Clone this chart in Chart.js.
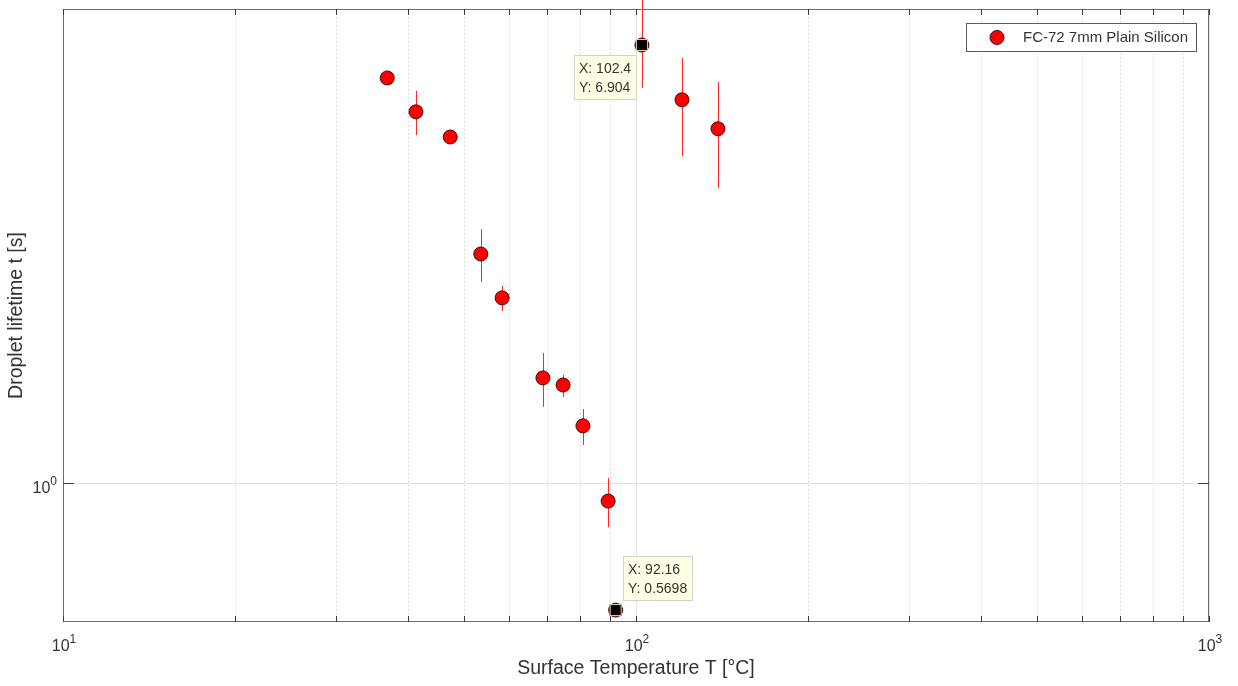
<!DOCTYPE html>
<html lang="en">
<head>
<meta charset="UTF-8">
<title>Droplet lifetime vs surface temperature</title>
<script src="https://cdn.jsdelivr.net/npm/chart.js"></script>
<style>
  html, body { margin: 0; padding: 0; background: #ffffff; }
  #wrap { width: 1238px; height: 686px; }
</style>
</head>
<body>
<div id="wrap"><canvas id="lifetimeChart" width="1238" height="686"></canvas></div>
<script>
// data
const seriesLabel = 'FC-72 7mm Plain Silicon';
const temperature = [36.8, 41.3, 47.4, 53.6, 58.4, 68.8, 74.6, 80.8, 89.4, 92.16, 102.4, 120.3, 139.0];
const lifetime    = [5.97, 5.14, 4.60, 2.745, 2.261, 1.588, 1.539, 1.285, 0.922, 0.5698, 6.904, 5.42, 4.77];
const errLower    = [5.94, 4.64, 4.57, 2.426, 2.135, 1.397, 1.460, 1.181, 0.822, 0.555, 5.71, 4.231, 3.670];
const errUpper    = [6.00, 5.64, 4.63, 3.063, 2.384, 1.773, 1.609, 1.384, 1.021, 0.585, 8.50, 6.523, 5.867];

// axis ticks
const xMajorTicks = [10, 100, 1000];
const xMinorTicks = [20, 30, 40, 50, 60, 70, 80, 90, 200, 300, 400, 500, 600, 700, 800, 900];
const yMajorTicks = [1];

// data tips shown on the figure
const tipX = [102.4, 92.16];
const tipY = [6.904, 0.5698];

const FONT = "'Liberation Sans', Arial, Helvetica, sans-serif";
const TEXT = '#333333';

function drawPow(ctx, base, exp, x, y, align) {
  ctx.font = '16px ' + FONT;
  const wb = ctx.measureText(base).width;
  ctx.font = '12px ' + FONT;
  const we = ctx.measureText(exp).width;
  let left = align === 'right' ? x - wb - we : x - (wb + we) / 2;
  ctx.fillStyle = TEXT;
  ctx.textAlign = 'left';
  ctx.textBaseline = 'alphabetic';
  ctx.font = '16px ' + FONT;
  ctx.fillText(base, left, y);
  ctx.font = '12px ' + FONT;
  ctx.fillText(exp, left + wb, y - 8);
}

const matlabAxes = {
  id: 'matlabAxes',
  beforeDatasetsDraw(chart) {
    const { ctx, chartArea: a, scales: { x, y } } = chart;
    ctx.save();
    // minor grid (dotted)
    ctx.strokeStyle = '#c4c4c4';
    ctx.lineWidth = 1;
    ctx.setLineDash([1, 3]);
    xMinorTicks.forEach(v => {
      const px = Math.round(x.getPixelForValue(v)) + 0.5;
      ctx.beginPath(); ctx.moveTo(px, a.top); ctx.lineTo(px, a.bottom); ctx.stroke();
    });
    ctx.setLineDash([]);
    // major grid
    ctx.strokeStyle = '#e3e3e3';
    xMajorTicks.forEach(v => {
      const px = Math.round(x.getPixelForValue(v)) + 0.5;
      ctx.beginPath(); ctx.moveTo(px, a.top); ctx.lineTo(px, a.bottom); ctx.stroke();
    });
    yMajorTicks.forEach(v => {
      const py = Math.round(y.getPixelForValue(v)) + 0.5;
      ctx.beginPath(); ctx.moveTo(a.left, py); ctx.lineTo(a.right, py); ctx.stroke();
    });
    // error bars
    ctx.strokeStyle = 'rgba(255,0,0,0.85)';
    temperature.forEach((t, i) => {
      const px = Math.round(x.getPixelForValue(t)) + 0.5;
      ctx.beginPath();
      ctx.moveTo(px, y.getPixelForValue(errLower[i]));
      ctx.lineTo(px, y.getPixelForValue(errUpper[i]));
      ctx.stroke();
    });
    ctx.restore();
  },
  afterDatasetsDraw(chart) {
    const { ctx, chartArea: a, scales: { x, y } } = chart;
    ctx.save();
    // box
    ctx.strokeStyle = '#6e6e6e';
    ctx.lineWidth = 1;
    ctx.strokeRect(a.left + 0.5, a.top + 0.5, a.right - a.left - 1, a.bottom - a.top - 1);
    // tick marks, inward
    ctx.strokeStyle = '#3a3a3a';
    xMajorTicks.concat(xMinorTicks).forEach(v => {
      const px = Math.round(x.getPixelForValue(v)) + 0.5;
      ctx.beginPath();
      ctx.moveTo(px, a.bottom); ctx.lineTo(px, a.bottom - 6);
      ctx.moveTo(px, a.top); ctx.lineTo(px, a.top + 6);
      ctx.stroke();
    });
    yMajorTicks.forEach(v => {
      const py = Math.round(y.getPixelForValue(v)) + 0.5;
      ctx.beginPath();
      ctx.moveTo(a.left, py); ctx.lineTo(a.left + 11, py);
      ctx.moveTo(a.right, py); ctx.lineTo(a.right - 11, py);
      ctx.stroke();
    });
    // tick labels
    xMajorTicks.forEach(v => {
      drawPow(ctx, '10', String(Math.round(Math.log10(v))), x.getPixelForValue(v) + 1, a.bottom + 29, 'center');
    });
    yMajorTicks.forEach(v => {
      drawPow(ctx, '10', String(Math.round(Math.log10(v))), a.left - 6, y.getPixelForValue(v) + 10, 'right');
    });
    // axis titles
    ctx.fillStyle = TEXT;
    ctx.font = '19.5px ' + FONT;
    ctx.textAlign = 'center';
    ctx.textBaseline = 'middle';
    ctx.fillText('Surface Temperature T [°C]', (a.left + a.right) / 2, 669);
    ctx.save();
    ctx.translate(17, (a.top + a.bottom) / 2);
    ctx.rotate(-Math.PI / 2);
    ctx.fillText('Droplet lifetime t [s]', 0, 0);
    ctx.restore();
    // legend
    ctx.fillStyle = '#ffffff';
    ctx.fillRect(966, 23, 230, 28);
    ctx.strokeStyle = '#5a5a5a';
    ctx.strokeRect(966.5, 23.5, 230, 28);
    ctx.beginPath();
    ctx.arc(997, 37.5, 7, 0, Math.PI * 2);
    ctx.fillStyle = '#ff0000'; ctx.fill();
    ctx.strokeStyle = '#5a0000'; ctx.stroke();
    ctx.fillStyle = TEXT;
    ctx.font = '15px ' + FONT;
    ctx.textAlign = 'left';
    ctx.fillText(chart.data.datasets[0].label, 1023, 38);
    // data tips
    tipX.forEach((tx, i) => {
      const px = x.getPixelForValue(tx), py = y.getPixelForValue(tipY[i]);
      ctx.fillStyle = '#000000';
      ctx.strokeStyle = '#d8d2b0';
      ctx.fillRect(px - 6, py - 6, 12, 12);
      ctx.strokeRect(px - 5.5, py - 5.5, 11, 11);
      const bw = i === 0 ? 62 : 69, bh = 44;
      const bx = i === 0 ? Math.round(px - 68) : Math.round(px + 7);
      const by = i === 0 ? Math.round(py + 10) : Math.round(py - 54);
      ctx.fillStyle = '#ffffe6';
      ctx.fillRect(bx, by, bw, bh);
      ctx.strokeStyle = '#d4d4c0';
      ctx.strokeRect(bx + 0.5, by + 0.5, bw, bh);
      ctx.fillStyle = TEXT;
      ctx.font = '14px ' + FONT;
      ctx.textAlign = 'left';
      ctx.textBaseline = 'middle';
      ctx.fillText('X: ' + tx, bx + 5, by + 14);
      ctx.fillText('Y: ' + tipY[i], bx + 5, by + 33);
    });
    ctx.restore();
  }
};

const ctx = document.getElementById('lifetimeChart').getContext('2d');
const lifetimeChart = new Chart(ctx, {
  type: 'scatter',
  data: {
    datasets: [{
      label: seriesLabel,
      data: temperature.map((t, i) => ({ x: t, y: lifetime[i] })),
      backgroundColor: '#ff0000',
      borderColor: '#4a0000',
      borderWidth: 1,
      pointRadius: 7,
      pointHoverRadius: 7,
      clip: false
    }]
  },
  options: {
    responsive: false,
    animation: false,
    layout: { padding: { left: 63, right: 29, top: 9, bottom: 64 } },
    plugins: { legend: { display: false }, tooltip: { enabled: false } },
    scales: {
      x: { type: 'logarithmic', min: 10, max: 1000, display: false },
      y: { type: 'logarithmic', min: 0.5406, max: 8.094, display: false }
    }
  },
  plugins: [matlabAxes]
});
</script>
</body>
</html>
